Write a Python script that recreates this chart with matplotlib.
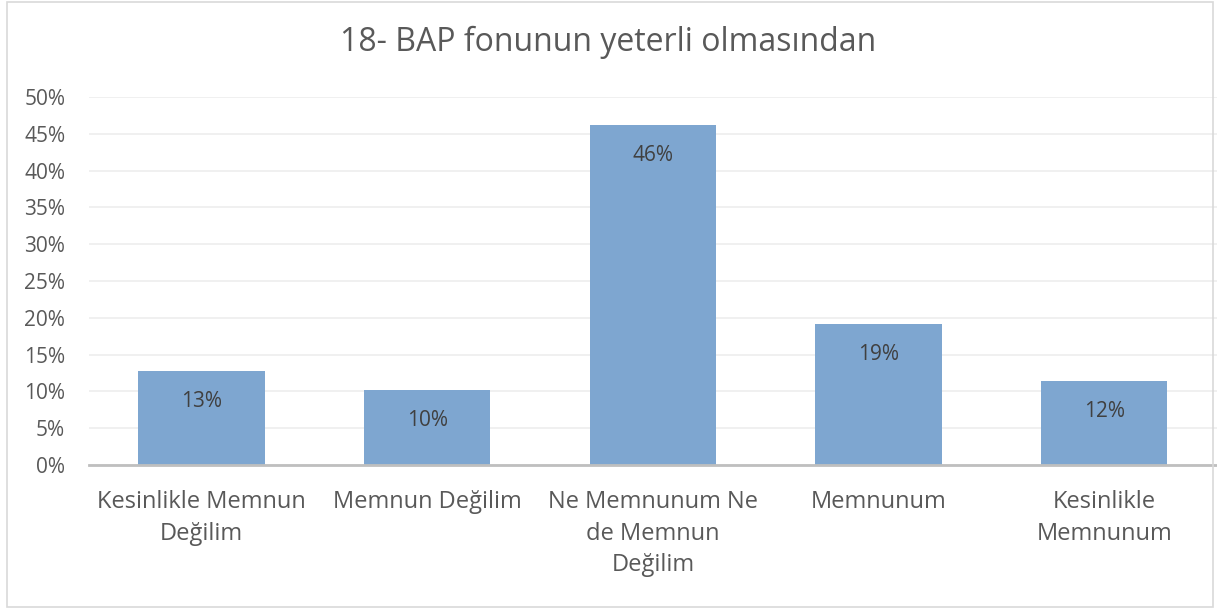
import matplotlib.pyplot as plt
from matplotlib.patches import Rectangle
from matplotlib.ticker import PercentFormatter

plt.rcParams['font.family'] = ['Open Sans', 'DejaVu Sans']

categories = ['Kesinlikle Memnun\nDeğilim', 'Memnun Değilim', 'Ne Memnunum Ne\nde Memnun\nDeğilim',
              'Memnunum', 'Kesinlikle\nMemnunum']
values = [0.128, 0.102, 0.462, 0.192, 0.114]
labels = ['13%', '10%', '46%', '19%', '12%']

fig = plt.figure(figsize=(12.17, 6.12), dpi=100)
ax = fig.add_axes([0.073, 0.240, 0.927, 0.6015])

x = range(len(categories))
bars = ax.bar(x, values, width=0.56, color='#7EA6D0', zorder=3)
for b, lab in zip(bars, labels):
    ax.text(b.get_x() + b.get_width() / 2, b.get_height() - 0.027, lab,
            ha='center', va='top', fontsize=15, color='#404040', zorder=4)

ax.set_xlim(-0.5, len(categories) - 0.5)
ax.set_ylim(0, 0.5)
ax.set_yticks([i * 0.05 for i in range(11)])
ax.yaxis.set_major_formatter(PercentFormatter(1.0, decimals=0))
ax.set_xticks(list(x))
ax.set_xticklabels(categories, fontsize=17, color='#595959', linespacing=1.41)
ax.tick_params(axis='y', labelsize=15, colors='#595959', length=0, pad=17)
ax.tick_params(axis='x', length=0, pad=18)
ax.grid(axis='y', color='#EDEDED', linewidth=1.2, zorder=0)
for s in ['top', 'right', 'left']:
    ax.spines[s].set_visible(False)
ax.spines['bottom'].set_color('#BFBFBF')
ax.spines['bottom'].set_linewidth(2)
ax.spines['bottom'].set_zorder(5)

fig.text(0.5, 0.93, '18- BAP fonunun yeterli olmasından', ha='center', va='center',
         fontsize=23, color='#595959')

fig.patches.append(Rectangle((0.006, 0.008), 0.991, 0.988, transform=fig.transFigure,
                             fill=False, edgecolor='#D9D9D9', linewidth=1.2, zorder=10))

fig.savefig('out.png', dpi=100)
